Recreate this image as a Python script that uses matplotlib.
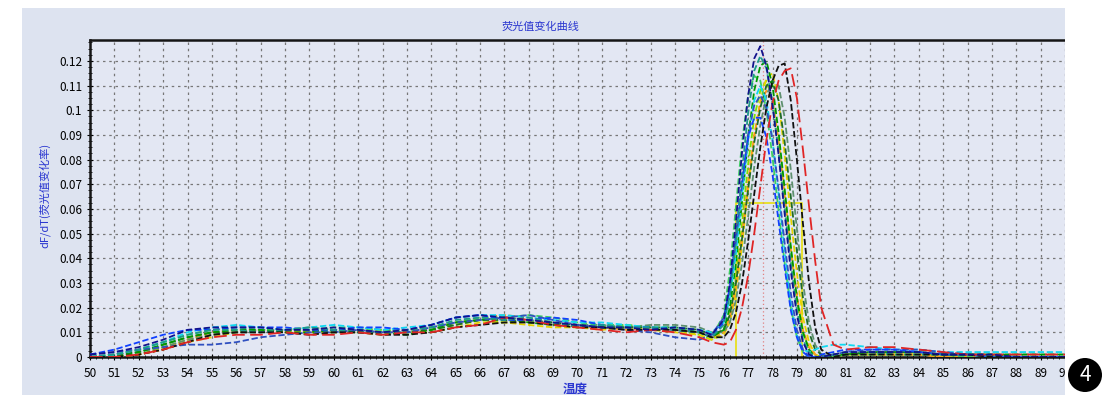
import matplotlib
matplotlib.use("Agg")
import matplotlib.pyplot as plt
from matplotlib.patches import Rectangle, Ellipse
from matplotlib.ticker import MultipleLocator

plt.rcParams['font.family'] = ['Noto Sans CJK SC', 'DejaVu Sans']

# temperature grid shared by every curve
temps = [50, 51, 52, 53, 54, 55, 56, 57, 58, 59, 60, 61, 62, 63, 64, 65, 66, 67, 68, 69,
         70, 71, 72, 73, 74, 75, 75.5, 76, 76.25, 76.5, 76.75, 77, 77.25, 77.5, 77.75, 78,
         78.25, 78.5, 78.75, 79, 79.25, 79.5, 79.75, 80, 80.5, 81, 82, 83, 84, 85, 86, 87,
         88, 89, 90]

# dF/dT of each well
navy = [0.001, 0.002, 0.004, 0.007, 0.011, 0.012, 0.012, 0.012, 0.011, 0.011, 0.012, 0.011, 0.010,
        0.011, 0.013, 0.016, 0.017, 0.016, 0.015, 0.014, 0.013, 0.012, 0.012, 0.011, 0.012, 0.011,
        0.009, 0.015, 0.030, 0.055, 0.083, 0.106, 0.121, 0.126, 0.118, 0.102, 0.082, 0.058, 0.035,
        0.017, 0.006, 0.001, 0.000, 0.000, 0.001, 0.002, 0.002, 0.002, 0.002, 0.001, 0.001, 0.001,
        0.000, 0.000, 0.000]
teal = [0.000, 0.001, 0.003, 0.006, 0.009, 0.011, 0.011, 0.010, 0.011, 0.012, 0.011, 0.010, 0.010,
        0.011, 0.012, 0.015, 0.016, 0.015, 0.016, 0.014, 0.012, 0.013, 0.012, 0.012, 0.011, 0.010,
        0.008, 0.013, 0.025, 0.047, 0.075, 0.099, 0.116, 0.122, 0.117, 0.103, 0.083, 0.060, 0.038,
        0.019, 0.007, 0.002, 0.000, 0.000, 0.001, 0.002, 0.002, 0.001, 0.001, 0.001, 0.001, 0.000,
        0.000, 0.000, 0.000]
cyan = [0.000, 0.001, 0.003, 0.006, 0.010, 0.012, 0.013, 0.012, 0.011, 0.012, 0.013, 0.012, 0.011,
        0.012, 0.013, 0.016, 0.017, 0.017, 0.016, 0.015, 0.014, 0.014, 0.013, 0.012, 0.012, 0.011,
        0.010, 0.014, 0.024, 0.042, 0.066, 0.088, 0.104, 0.110, 0.104, 0.088, 0.066, 0.043, 0.022,
        0.009, 0.003, 0.002, 0.003, 0.004, 0.005, 0.005, 0.004, 0.003, 0.003, 0.002, 0.002, 0.002,
        0.002, 0.002, 0.002]
green = [0.000, 0.000, 0.002, 0.005, 0.008, 0.010, 0.011, 0.011, 0.010, 0.010, 0.011, 0.011, 0.010,
         0.009, 0.011, 0.014, 0.015, 0.016, 0.014, 0.013, 0.013, 0.012, 0.012, 0.012, 0.011, 0.010,
         0.008, 0.011, 0.020, 0.038, 0.063, 0.089, 0.108, 0.118, 0.120, 0.110, 0.091, 0.068, 0.045,
         0.024, 0.010, 0.003, 0.000, 0.000, 0.001, 0.001, 0.002, 0.002, 0.002, 0.001, 0.001, 0.001,
         0.001, 0.001, 0.001]
lime = [0.000, 0.000, 0.001, 0.004, 0.007, 0.009, 0.010, 0.011, 0.011, 0.010, 0.010, 0.011, 0.011,
        0.010, 0.011, 0.013, 0.015, 0.014, 0.015, 0.013, 0.012, 0.012, 0.013, 0.012, 0.011, 0.009,
        0.007, 0.010, 0.017, 0.032, 0.054, 0.078, 0.097, 0.108, 0.112, 0.104, 0.085, 0.062, 0.040,
        0.022, 0.010, 0.003, 0.001, 0.000, 0.000, 0.001, 0.001, 0.001, 0.001, 0.001, 0.000, 0.000,
        0.000, 0.000, 0.000]
yellow = [0.000, 0.000, 0.001, 0.003, 0.006, 0.008, 0.010, 0.011, 0.010, 0.010, 0.010, 0.010, 0.009,
          0.010, 0.010, 0.012, 0.014, 0.014, 0.013, 0.012, 0.012, 0.011, 0.012, 0.011, 0.010, 0.009,
          0.007, 0.009, 0.014, 0.026, 0.045, 0.068, 0.089, 0.104, 0.113, 0.115, 0.104, 0.082, 0.057,
          0.034, 0.016, 0.006, 0.001, 0.000, 0.000, 0.001, 0.001, 0.001, 0.001, 0.000, 0.000, 0.000,
          0.000, 0.000, 0.000]
black = [0.000, 0.000, 0.001, 0.003, 0.006, 0.009, 0.010, 0.010, 0.010, 0.009, 0.010, 0.010, 0.009,
         0.009, 0.010, 0.012, 0.013, 0.014, 0.014, 0.013, 0.012, 0.012, 0.011, 0.011, 0.011, 0.010,
         0.008, 0.008, 0.011, 0.018, 0.030, 0.047, 0.066, 0.085, 0.101, 0.112, 0.118, 0.119, 0.104,
         0.080, 0.054, 0.030, 0.012, 0.003, 0.000, 0.001, 0.001, 0.001, 0.001, 0.001, 0.001, 0.000,
         0.000, 0.000, 0.000]
red = [0.000, 0.000, 0.001, 0.003, 0.006, 0.008, 0.009, 0.009, 0.010, 0.009, 0.009, 0.010, 0.009,
       0.010, 0.010, 0.012, 0.013, 0.016, 0.015, 0.013, 0.012, 0.011, 0.010, 0.011, 0.010, 0.008,
       0.006, 0.005, 0.006, 0.011, 0.020, 0.033, 0.050, 0.069, 0.088, 0.103, 0.112, 0.116, 0.117,
       0.105, 0.084, 0.061, 0.039, 0.020, 0.005, 0.003, 0.004, 0.004, 0.003, 0.002, 0.001, 0.001,
       0.001, 0.001, 0.001]
blue = [0.001, 0.003, 0.006, 0.009, 0.011, 0.011, 0.012, 0.012, 0.012, 0.011, 0.011, 0.012, 0.012,
        0.011, 0.013, 0.016, 0.017, 0.015, 0.015, 0.016, 0.015, 0.013, 0.012, 0.012, 0.011, 0.010,
        0.008, 0.014, 0.028, 0.050, 0.072, 0.089, 0.097, 0.097, 0.089, 0.074, 0.055, 0.036, 0.019,
        0.008, 0.002, 0.000, 0.000, 0.001, 0.002, 0.003, 0.003, 0.003, 0.002, 0.001, 0.001, 0.000,
        0.000, 0.000, 0.000]
darkgreen = [0.000, 0.001, 0.002, 0.005, 0.008, 0.010, 0.010, 0.010, 0.011, 0.011, 0.010, 0.010, 0.010,
             0.010, 0.011, 0.013, 0.015, 0.015, 0.014, 0.014, 0.013, 0.012, 0.012, 0.012, 0.012, 0.011,
             0.009, 0.011, 0.017, 0.030, 0.048, 0.068, 0.087, 0.101, 0.110, 0.112, 0.104, 0.087, 0.065,
             0.043, 0.024, 0.010, 0.003, 0.001, 0.000, 0.001, 0.002, 0.002, 0.002, 0.001, 0.001, 0.001,
             0.000, 0.000, 0.000]
orange = [0.000, 0.000, 0.001, 0.003, 0.007, 0.010, 0.011, 0.011, 0.010, 0.010, 0.011, 0.010, 0.010,
          0.011, 0.012, 0.014, 0.016, 0.017, 0.016, 0.014, 0.012, 0.012, 0.011, 0.012, 0.011, 0.010,
          0.008, 0.010, 0.016, 0.029, 0.049, 0.071, 0.090, 0.103, 0.108, 0.104, 0.088, 0.066, 0.044,
          0.025, 0.011, 0.004, 0.001, 0.000, 0.000, 0.001, 0.001, 0.001, 0.001, 0.000, 0.000, 0.000,
          0.000, 0.000, 0.000]
graygreen = [0.000, 0.001, 0.002, 0.004, 0.007, 0.009, 0.010, 0.011, 0.011, 0.012, 0.011, 0.010, 0.010,
             0.010, 0.012, 0.014, 0.015, 0.016, 0.015, 0.014, 0.013, 0.013, 0.012, 0.013, 0.013, 0.012,
             0.010, 0.010, 0.014, 0.023, 0.038, 0.057, 0.077, 0.094, 0.106, 0.112, 0.110, 0.097, 0.076,
             0.052, 0.030, 0.014, 0.005, 0.001, 0.000, 0.001, 0.001, 0.002, 0.002, 0.001, 0.001, 0.001,
             0.001, 0.001, 0.001]
midblue = [0.001, 0.002, 0.003, 0.004, 0.005, 0.005, 0.006, 0.008, 0.009, 0.010, 0.010, 0.011, 0.010,
           0.010, 0.012, 0.014, 0.015, 0.016, 0.017, 0.015, 0.013, 0.012, 0.011, 0.010, 0.008, 0.007,
           0.009, 0.016, 0.028, 0.047, 0.070, 0.090, 0.102, 0.106, 0.101, 0.088, 0.068, 0.046, 0.026,
           0.011, 0.003, 0.000, 0.000, 0.000, 0.001, 0.002, 0.003, 0.003, 0.003, 0.002, 0.001, 0.000,
           0.000, 0.000, 0.000]
lightgreen = [0.000, 0.001, 0.003, 0.006, 0.009, 0.011, 0.012, 0.011, 0.011, 0.011, 0.012, 0.012, 0.011,
              0.011, 0.012, 0.014, 0.016, 0.016, 0.017, 0.016, 0.014, 0.013, 0.013, 0.012, 0.012, 0.010,
              0.008, 0.017, 0.035, 0.061, 0.087, 0.106, 0.114, 0.112, 0.100, 0.081, 0.059, 0.038, 0.020,
              0.008, 0.002, 0.000, 0.000, 0.000, 0.000, 0.001, 0.001, 0.001, 0.001, 0.001, 0.000, 0.000,
              0.000, 0.000, 0.000]

series = [
    (lime, '#80e000'), (yellow, '#e6d400'), (orange, '#ff9a20'), (graygreen, '#5f9070'),
    (darkgreen, '#1f6a2a'), (lightgreen, '#3ed060'), (green, '#009a00'), (cyan, '#10d8f0'),
    (midblue, '#3050c0'), (blue, '#1040ff'), (teal, '#1e9a8a'), (black, '#101010'),
    (red, '#e02525'), (navy, '#12128c'),
]

# threshold box and Tm marker
box_left, box_right, box_level = 76.5, 79.2, 0.0625
tm_marker = 77.6

xticks = list(range(50, 91))
yticks = [0, 0.01, 0.02, 0.03, 0.04, 0.05, 0.06, 0.07, 0.08, 0.09, 0.10, 0.11, 0.12]
ytick_labels = ['0', '0.01', '0.02', '0.03', '0.04', '0.05', '0.06', '0.07', '0.08', '0.09',
                '0.1', '0.11', '0.12']

W, H = 1105, 400
fig = plt.figure(figsize=(W / 100, H / 100), dpi=100)
fig.patch.set_facecolor('white')

# light panel behind the chart
fig.add_artist(Rectangle((22 / W, 1 - 395 / H), 1043 / W, 387 / H, transform=fig.transFigure,
                         facecolor='#dde3f0', edgecolor='none', zorder=-1))

ax = fig.add_axes([90 / W, 1 - 357 / H, 975 / W, 317 / H])
ax.set_facecolor('#e3e7f3')

for vals, col in series:
    dash = (7, 3) if col == '#e02525' else (3.5, 1.5)
    ax.plot(temps, vals, color=col, lw=1.3, dashes=dash, zorder=3)

ax.plot([box_left, box_left, box_right, box_right], [0, box_level, box_level, 0],
        color='#e8e020', lw=1.3, zorder=2)
ax.axvline(tm_marker, color='#e08080', lw=0.9, ls=(0, (1, 2)), zorder=2)

ax.set_xlim(50, 90)
ax.set_ylim(0, 0.1285)
ax.set_xticks(xticks)
ax.set_xticklabels([str(t) for t in xticks])
ax.set_yticks(yticks)
ax.set_yticklabels(ytick_labels)
ax.xaxis.set_minor_locator(MultipleLocator(0.25))
ax.yaxis.set_minor_locator(MultipleLocator(0.0025))
ax.tick_params(axis='both', which='major', direction='inout', length=5, width=0.8,
               labelsize=8.5, pad=3)
ax.tick_params(axis='x', which='major', pad=5)
ax.tick_params(axis='both', which='minor', direction='inout', length=3, width=0.6)
ax.grid(True, which='major', color='#777777', lw=0.9, ls=(0, (2, 3)))

for side in ['left', 'bottom', 'top']:
    ax.spines[side].set_linewidth(1.8)
    ax.spines[side].set_color('#151515')
ax.spines['right'].set_visible(False)

fig.text(540 / W, 1 - 27 / H, '荧光值变化曲线', color='#2a36d0', fontsize=8,
         ha='center', va='center')
fig.text(45 / W, 1 - 195 / H, 'dF/dT(荧光值变化率)', color='#2a36d0', fontsize=8,
         rotation=90, ha='center', va='center')
fig.text(575 / W, 1 - 389 / H, '温度', color='#2a36d0', fontsize=9, fontweight='bold',
         ha='center', va='center')

# white margin on the right cuts off the last label, as in the screenshot
fig.add_artist(Rectangle((1065 / W, 0), 40 / W, 1, transform=fig.transFigure,
                         facecolor='white', edgecolor='none', zorder=5))
fig.add_artist(Ellipse((1085 / W, 1 - 375 / H), 34 / W, 34 / H, transform=fig.transFigure,
                       facecolor='black', edgecolor='none', zorder=6))
fig.text(1085 / W, 1 - 375 / H, '4', color='white', fontsize=15, ha='center', va='center',
         zorder=7)

fig.savefig('out.png', dpi=100)
